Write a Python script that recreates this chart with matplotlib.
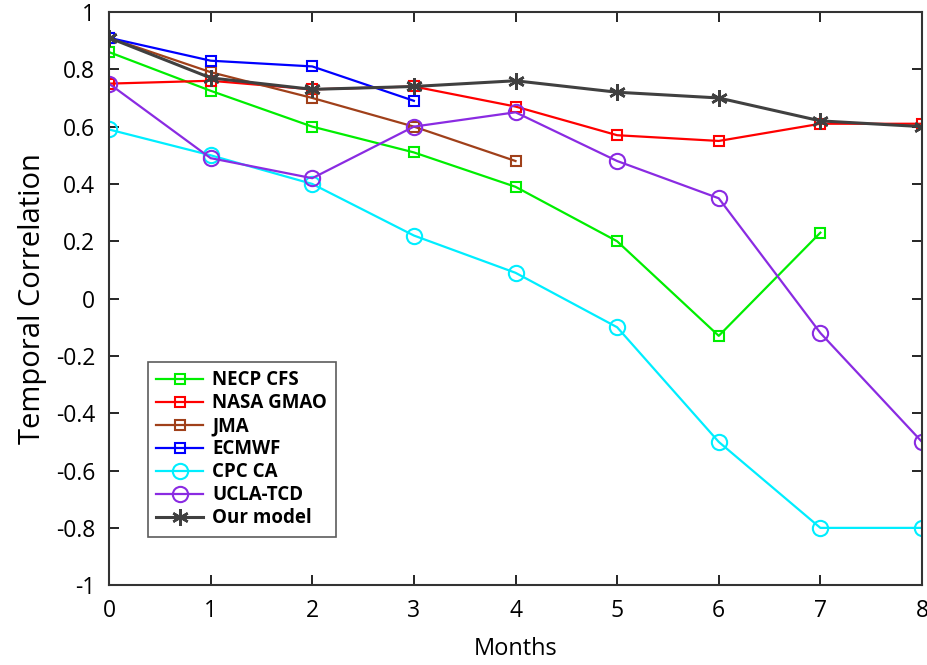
import matplotlib
matplotlib.use("Agg")
import matplotlib.pyplot as plt

months = [0, 1, 2, 3, 4, 5, 6, 7, 8]

necp_cfs = [0.86, 0.725, 0.60, 0.51, 0.39, 0.20, -0.13, 0.23]
nasa_gmao = [0.75, 0.76, 0.73, 0.74, 0.67, 0.57, 0.55, 0.61, 0.61]
jma = [0.91, 0.79, 0.70, 0.60, 0.48]
ecmwf = [0.91, 0.83, 0.81, 0.69]
cpc_ca = [0.59, 0.50, 0.40, 0.22, 0.09, -0.10, -0.50, -0.80, -0.80]
ucla_tcd = [0.75, 0.49, 0.42, 0.60, 0.65, 0.48, 0.35, -0.12, -0.50]
our_model = [0.91, 0.77, 0.73, 0.74, 0.76, 0.72, 0.70, 0.62, 0.60]

y_ticks = [-1, -0.8, -0.6, -0.4, -0.2, 0, 0.2, 0.4, 0.6, 0.8, 1]
y_tick_labels = ["-1", "-0.8", "-0.6", "-0.4", "-0.2", "0", "0.2", "0.4", "0.6", "0.8", "1"]

plt.rcParams['font.family'] = ['Open Sans', 'DejaVu Sans']

fig = plt.figure(figsize=(9.27, 6.65), dpi=100)
ax = fig.add_axes([0.1176, 0.12, 0.877, 0.862])

series = [
    ("NECP CFS", necp_cfs, "#00ee00", "s", 7.5),
    ("NASA GMAO", nasa_gmao, "#ff0000", "s", 7.5),
    ("JMA", jma, "#a0401a", "s", 7.5),
    ("ECMWF", ecmwf, "#0000ff", "s", 7.5),
    ("CPC CA", cpc_ca, "#00eeff", "o", 11),
    ("UCLA-TCD", ucla_tcd, "#8a2be2", "o", 11),
]
for name, vals, color, marker, ms in series:
    ax.plot(months[:len(vals)], vals, color=color, marker=marker, markersize=ms,
            markerfacecolor="none", markeredgecolor=color, markeredgewidth=1.5,
            linewidth=1.6, label=name)
ax.plot(months, our_model, color="#404040", marker=(6, 2, 0), markersize=12,
        markeredgecolor="#404040", markeredgewidth=1.8, linewidth=2.2,
        label="Our model")

ax.set_xlim(0, 8)
ax.set_ylim(-1, 1)
ax.set_xticks(months)
ax.set_yticks(y_ticks)
ax.set_yticklabels(y_tick_labels)
ax.tick_params(direction="in", length=7, width=1.2, labelsize=16.5, top=True, right=True, pad=10)
for sp in ax.spines.values():
    sp.set_linewidth(1.5)
    sp.set_color("#333333")

ax.set_xlabel("Months", fontsize=17, labelpad=10)
ax.set_ylabel("Temporal Correlation", fontsize=21, labelpad=6)

leg = ax.legend(loc="lower left", bbox_to_anchor=(0.036, 0.068), frameon=True, fancybox=False,
                edgecolor="#333333", prop={"weight": "bold", "size": 13.5}, handlelength=2.5,
                labelspacing=0.16, borderpad=0.45, handletextpad=0.5)
leg.get_frame().set_linewidth(1.2)

fig.savefig("out.png", dpi=100)
